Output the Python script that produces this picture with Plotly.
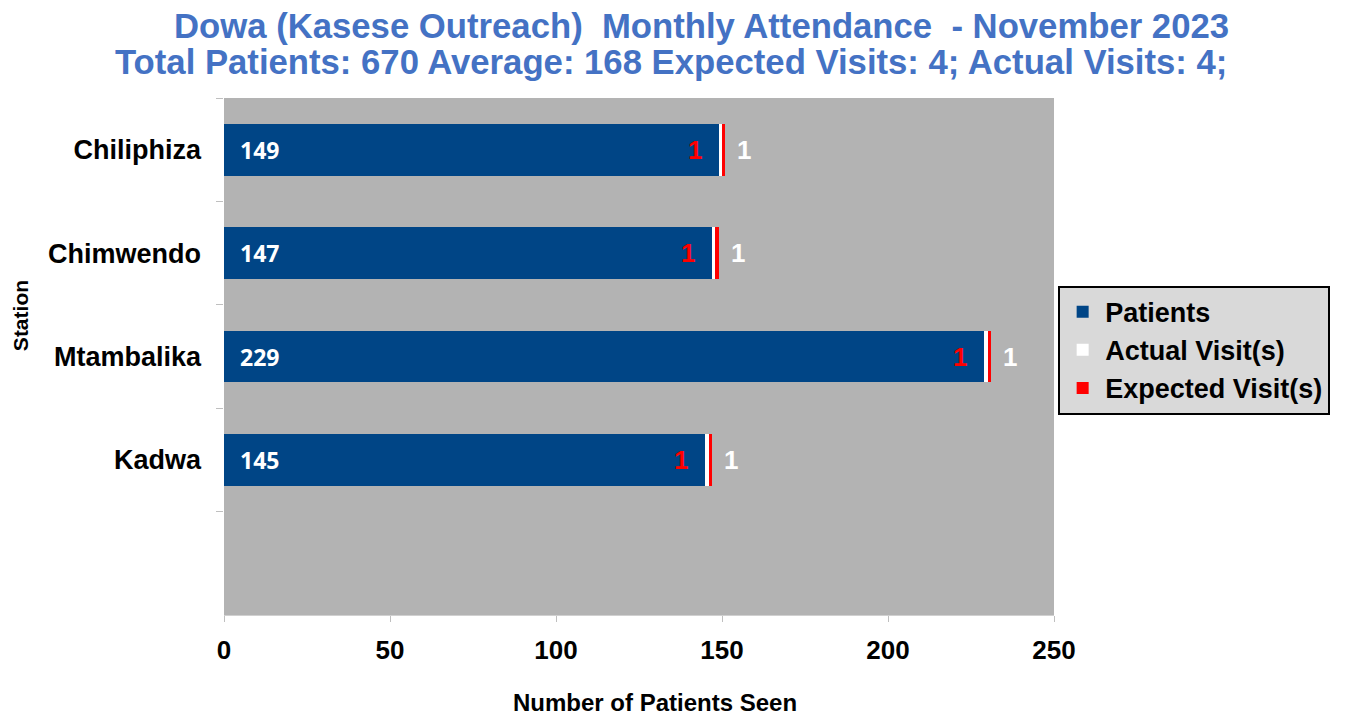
import plotly.graph_objects as go

stations = ["Chiliphiza", "Chimwendo", "Mtambalika", "Kadwa"]
patients = [149, 147, 229, 145]
actual_visits = [1, 1, 1, 1]
expected_visits = [1, 1, 1, 1]
category_order = stations + [" "]
x_ticks = [0, 50, 100, 150, 200, 250]

title_line1 = "Dowa (Kasese Outreach)  Monthly Attendance  - November 2023"
title_line2 = "Total Patients: 670 Average: 168 Expected Visits: 4; Actual Visits: 4;"
x_title = "Number of Patients Seen"
y_title = "Station"

BOLD = "Liberation Sans"

fig = go.Figure()
fig.add_trace(go.Bar(
    y=stations, x=patients, orientation="h", name="Patients",
    marker=dict(color="#004586", line=dict(width=0)), legendgroup="a",
))
fig.add_trace(go.Bar(
    y=stations, x=actual_visits, orientation="h", name="Actual Visit(s)",
    marker=dict(color="#FFFFFF", line=dict(width=0)), legendgroup="b",
))
fig.add_trace(go.Bar(
    y=stations, x=expected_visits, orientation="h", name="Expected Visit(s)",
    marker=dict(color="#FF0000", line=dict(width=0)), legendgroup="c",
))

for s, p, a, e in zip(stations, patients, actual_visits, expected_visits):
    fig.add_annotation(x=0, y=s, text=str(p), showarrow=False, xanchor="left", xshift=14,
                       font=dict(family="Open Sans", size=23, color="white", weight="bold"))
    fig.add_annotation(x=p, y=s, text=str(a), showarrow=False, xanchor="right", xshift=-15,
                       font=dict(family=BOLD, size=26, color="#FF0000", weight="bold"))
    fig.add_annotation(x=p + a + e, y=s, text=str(e), showarrow=False, xanchor="left", xshift=10,
                       font=dict(family=BOLD, size=26, color="#FFFFFF", weight="bold"))

title_color = "#4472C4"
fig.add_annotation(xref="paper", yref="paper", x=0.5747, y=1.139, xanchor="center", yanchor="middle",
                   text=title_line1, showarrow=False,
                   font=dict(family=BOLD, size=34.7, color=title_color, weight="bold"))
fig.add_annotation(xref="paper", yref="paper", x=0.5386, y=1.070, xanchor="center", yanchor="middle",
                   text=title_line2, showarrow=False,
                   font=dict(family=BOLD, size=34.7, color=title_color, weight="bold"))

# axis titles (positioned as in the reference, off-centre)
fig.add_annotation(xref="paper", yref="paper", x=0.519, y=-0.170, xanchor="center", yanchor="middle",
                   text=x_title, showarrow=False,
                   font=dict(family=BOLD, size=24, color="black", weight="bold"))
fig.add_annotation(xref="paper", yref="paper", x=-0.2458, y=0.580, xanchor="center", yanchor="middle",
                   text=y_title, textangle=-90, showarrow=False,
                   font=dict(family=BOLD, size=21, color="black", weight="bold"))

fig.update_layout(
    barmode="stack", bargap=0.5,
    width=1350, height=716,
    paper_bgcolor="white", plot_bgcolor="#B3B3B3",
    margin=dict(l=216, r=304, t=90, b=109, autoexpand=False),
    font=dict(family=BOLD, color="black"),
    showlegend=True,
    legend=dict(x=1.005, xanchor="left", y=0.637, yanchor="top",
                bgcolor="#D9D9D9", bordercolor="black", borderwidth=2,
                font=dict(family=BOLD, size=27, color="black", weight="bold"),
                itemwidth=35, tracegroupgap=3, traceorder="normal"),
    xaxis=dict(range=[0, 250], tickvals=x_ticks,
               showgrid=False, zeroline=False, showline=True, linecolor="#D0D0D0", linewidth=1,
               ticks="outside", ticklen=6, tickcolor="#BFBFBF", ticklabelstandoff=6,
               tickfont=dict(family=BOLD, size=26, color="black", weight="bold")),
    yaxis=dict(type="category", categoryorder="array", categoryarray=category_order,
               range=[4.5, -0.5], tickson="boundaries",
               showgrid=False, zeroline=False, showline=False,
               ticks="outside", ticklen=7, tickcolor="#BFBFBF", ticklabelstandoff=22,
               tickfont=dict(family=BOLD, size=27, color="black", weight="bold")),
)

fig.write_html("out.html")
